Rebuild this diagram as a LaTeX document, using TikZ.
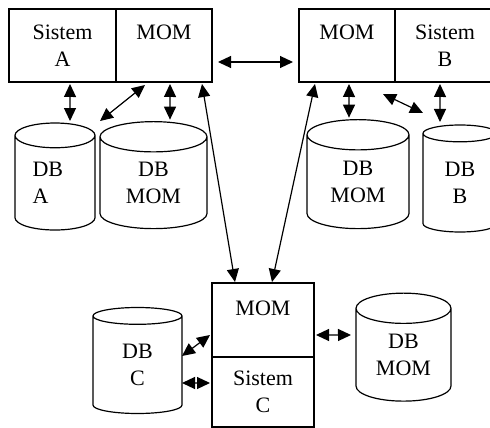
\documentclass[tikz,border=0pt]{standalone}
\usepackage{fontspec}
\setmainfont{Liberation Serif}
\usetikzlibrary{positioning,calc,shapes.geometric,arrows.meta}

\begin{document}
\begin{tikzpicture}[x=1pt,y=-1pt,line width=1.2pt,
        every node/.style={font=\fontsize{22}{27}\selectfont,align=center,inner sep=0pt,outer sep=0pt},
        box/.style={draw,rectangle,minimum height=73pt,node distance=0pt},
        momtop/.style={text depth=27pt},
        db/.style={draw,cylinder,shape border rotate=90,aspect=0.55},
        link/.style={{Triangle[length=13pt,width=12pt]}-{Triangle[length=13pt,width=12pt]}}]
    \useasboundingbox (0,0) rectangle (490,428);
    % system A
    \node (sysA)   [box,minimum width=107pt] at (62.5,45.5) {Sistem\\A};
    \node (momA)   [box,momtop,minimum width=96pt,right=of sysA] {MOM};
    \node (dbA)    [db,align=left,text width=45pt,minimum width=80pt,minimum height=107pt] at (55,183) {DB\\A};
    \node (dbMomA) [db,minimum width=107pt,minimum height=107pt] at (153.5,183) {DB\\MOM};
    % system B
    \node (momB)   [box,momtop,minimum width=96pt] at (347,45.5) {MOM};
    \node (sysB)   [box,minimum width=100pt,right=of momB] {Sistem\\B};
    \node (dbMomB) [db,minimum width=102pt,minimum height=109pt] at (358,182) {DB\\MOM};
    \node (dbB)    [db,minimum width=74pt,minimum height=107pt] at (460,183) {DB\\B};
    % system C
    \node (momC)   [box,text depth=24pt,minimum width=102pt,minimum height=74pt] at (263,320) {MOM};
    \node (sysC)   [box,minimum width=102pt,minimum height=70pt,below=of momC] {Sistem\\C};
    \node (dbC)    [db,minimum width=89pt,minimum height=106pt] at (137.5,365) {DB\\C};
    \node (dbMomC) [db,minimum width=95pt,minimum height=108pt] at (403.5,355) {DB\\MOM};

    \draw[link] ([shift={(7.5,2)}]sysA.south)  -- ([shift={(15,-2)}]dbA.north);
    \draw[link] ([shift={(-19,3)}]momA.south)  -- ([shift={(45,-2)}]dbA.north);
    \draw[link] ([shift={(6,2)}]momA.south)    -- ([shift={(16.5,-2)}]dbMomA.north);
    \draw[link] ([shift={(6,16.5)}]momA.east)  -- ([shift={(-6,16.5)}]momB.west);
    \draw[link] ([shift={(38,2)}]momA.south)   -- ([shift={(-28,-1)}]momC.north);
    \draw[link] ([shift={(-32,2)}]momB.south)  -- ([shift={(9,-1)}]momC.north);
    \draw[link] ([shift={(2,2)}]momB.south)    -- ([shift={(-9,-2)}]dbMomB.north);
    \draw[link] ([shift={(36,12)}]momB.south)  -- ([shift={(-37,-12)}]dbB.north);
    \draw[link] ([shift={(-5,2)}]sysB.south)   -- ([shift={(-20,-3)}]dbB.north);
    \draw[link] ([shift={(2,15)}]momC.east)    -- ([shift={(-5,-20)}]dbMomC.west);
    \draw[link] ([shift={(0,-9)}]dbC.east)     -- ([shift={(-2,15)}]momC.west);
    \draw[link] ([shift={(0,18)}]dbC.east)     -- ([shift={(-2,-9)}]sysC.west);
\end{tikzpicture}
\end{document}
